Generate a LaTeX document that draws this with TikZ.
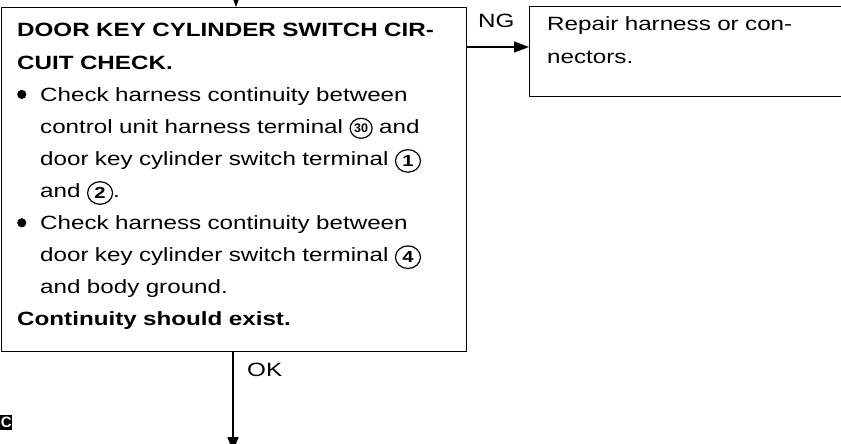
\documentclass[tikz,border=0pt]{standalone}
\usepackage{fontspec}
\setmainfont[FakeStretch=1.26]{Liberation Sans}
\newfontfamily\plainsans{Liberation Sans}
\usetikzlibrary{arrows.meta}
\newcommand\cnum[1]{\tikz[baseline=-4.5pt,x=1pt,y=1pt]{\draw[line width=1.2pt] (0,0) ellipse[x radius=12.5pt, y radius=11.3pt]; \node[inner sep=0pt, anchor=center, font=\bfseries\fontsize{16}{16}\selectfont] (c) at (0,0) {#1};}}
\newcommand\cnumsmall[1]{\tikz[baseline=-5pt,x=1pt,y=1pt]{\draw[line width=1.2pt] (0,0) ellipse[x radius=11pt, y radius=10pt]; \node[inner sep=0pt, anchor=center, font=\plainsans\bfseries\fontsize{12.5}{12.5}\selectfont] (c) at (0,0) {#1};}}
\newcommand\bul{\makebox[23pt][l]{\tikz[baseline=-6.8pt]\fill (0,0) circle[radius=4.6pt];}}
\newcommand\ind{\hspace*{23pt}}
\tikzset{
  box/.style={draw, line width=1.2pt, inner sep=0pt, anchor=north west},
  body/.style={font=\fontsize{19.2}{32.1}\selectfont, inner sep=0pt, anchor=base west},
  arr/.style={line width=1.1pt, -{Triangle[length=15pt,width=11pt]}},
  tag/.style={fill=black, text=white, inner sep=0pt, minimum width=12pt, minimum height=15pt, anchor=north west, font=\plainsans\bfseries\fontsize{15}{15}\selectfont}
}
\begin{document}
\begin{tikzpicture}[x=1pt,y=-1pt]
\clip (0,0) rectangle (841,444);
\node[box, minimum width=465pt, minimum height=344pt] (main) at (1,7) {};
\node[body, text width=445pt, align=left] (maintext) at (17,37) {%
\textbf{DOOR KEY CYLINDER SWITCH CIR-}\\
\textbf{CUIT CHECK.}\\
\bul Check harness continuity between\\
\ind control unit harness terminal \cnumsmall{30} and\\
\ind door key cylinder switch terminal \cnum{1}\\
\ind and \cnum{2}.\\
\bul Check harness continuity between\\
\ind door key cylinder switch terminal \cnum{4}\\
\ind and body ground.\\
\textbf{Continuity should exist.}};
\node[box, minimum width=330pt, minimum height=90pt] (ng) at (529,6) {};
\node[body, text width=290pt, align=left] (ngtext) at (547,31) {Repair harness or con-\\nectors.};
\coordinate (ngy) at (0,47);
\draw[arr] (main.east |- ngy) -- (ng.west |- ngy);
\node[body] (nglabel) at (478,28) {NG};
\coordinate (in) at (236,-20);
\draw[arr] (in) -- (in |- main.north);
\coordinate (out) at (233,452);
\draw[arr] (main.south -| out) -- (out);
\node[body] (oklabel) at (247,376) {OK};
\node[tag] (c) at (0,415) {C};
\end{tikzpicture}
\end{document}
